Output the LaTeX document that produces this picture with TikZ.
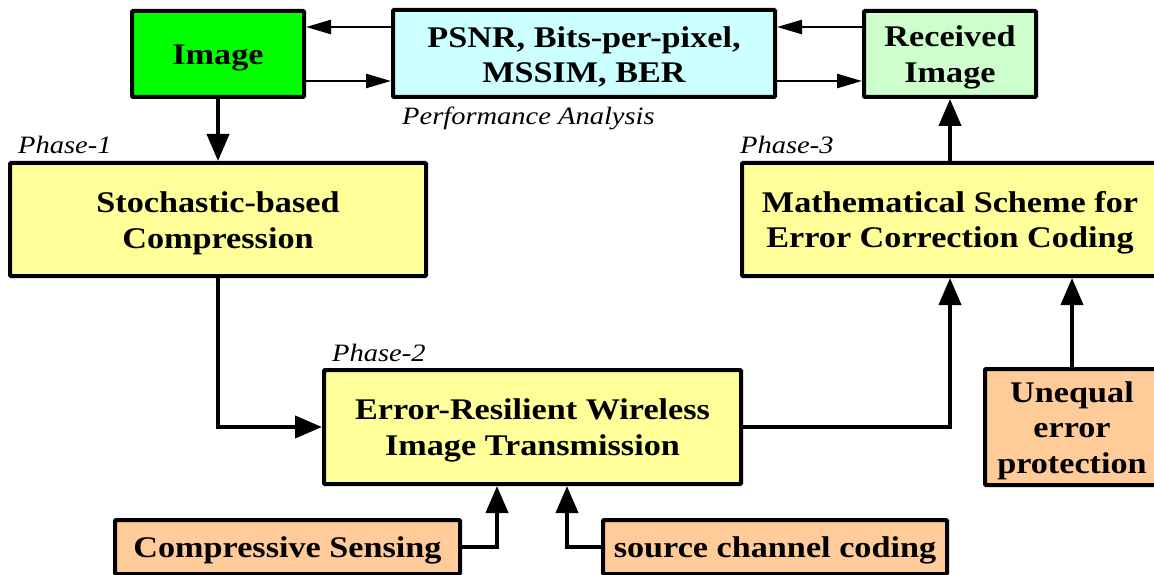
\documentclass[tikz,border=0pt]{standalone}
\usepackage{fontspec}
\setmainfont{Liberation Serif}[FakeStretch=1.14]
\usetikzlibrary{arrows.meta}
\definecolor{cgreen}{HTML}{00FF00}
\definecolor{ccyan}{HTML}{CCFFFF}
\definecolor{clgreen}{HTML}{CCFFCC}
\definecolor{cyellow}{HTML}{FFFF99}
\definecolor{corange}{HTML}{FFCC99}
\newcommand{\toplift}{\rule{0pt}{28pt}}
\begin{document}
\begin{tikzpicture}[x=1pt,y=-1pt,
  box/.style={draw=black, line width=4pt, rounded corners=1pt, inner sep=0pt, align=center,
    font=\fontsize{30}{35.5}\selectfont\bfseries},
  lbl/.style={anchor=west, inner sep=0pt, font=\fontsize{25}{30}\selectfont\itshape},
  tconn/.style={line width=4pt, -{Triangle[length=27pt,width=22pt]}},
  thinconn/.style={line width=2.5pt, -{Triangle[length=25pt,width=14pt]}}]
\useasboundingbox (0,0) rectangle (1154,575);
\clip (0,0) rectangle (1154,575);
\node[box, fill=cgreen, minimum width=172, minimum height=86] (img) at (218,54) {\toplift Image};
\node[box, fill=ccyan, minimum width=382, minimum height=87] (psnr) at (584,53.5) {\toplift PSNR, Bits-per-pixel,\\MSSIM, BER};
\node[box, fill=clgreen, minimum width=172, minimum height=86] (rec) at (950,54) {\toplift Received\\Image};
\node[box, fill=cyellow, minimum width=416, minimum height=113] (stoch) at (218,219.5) {\toplift Stochastic-based\\Compression};
\node[box, fill=cyellow, minimum width=416, minimum height=113] (math) at (950,219.5) {\toplift Mathematical Scheme for\\Error Correction Coding};
\node[box, fill=cyellow, minimum width=417, minimum height=114] (er) at (532.5,427) {\toplift Error-Resilient Wireless\\Image Transmission};
\node[box, fill=corange, minimum width=174, minimum height=116] (ueq) at (1072,427) {\toplift Unequal\\error\\protection};
\node[box, fill=corange, minimum width=345, minimum height=54] (cs) at (287.5,547) {\toplift Compressive Sensing};
\node[box, fill=corange, minimum width=344, minimum height=54] (scc) at (775,547) {\toplift source channel coding};
\node[lbl] (p1) at (18,145) {Phase-1};
\node[lbl] (p2) at (332,353) {Phase-2};
\node[lbl] (p3) at (740,145) {Phase-3};
\node[lbl] (pa) at (402,118) {Performance Analysis};
\draw[tconn] (img.south) -- (stoch.north);
\draw[thinconn] ([yshift=26.5pt]psnr.west) -- ([yshift=27pt]img.east);
\draw[thinconn] ([yshift=-27pt]img.east) -- ([yshift=-27.5pt]psnr.west);
\draw[thinconn] ([yshift=27pt]rec.west) -- ([yshift=26.5pt]psnr.east);
\draw[thinconn] ([yshift=-27.5pt]psnr.east) -- ([yshift=-27pt]rec.west);
\draw[tconn] (math.north) -- (rec.south);
\draw[tconn] (stoch.south) |- (er.west);
\draw[tconn] (er.east) -| (math.south);
\draw[tconn] (ueq.north) -- (ueq.north |- math.south);
\draw[tconn] (cs.east) -| ([xshift=-35.5pt]er.south);
\draw[tconn] (scc.west) -| ([xshift=34.5pt]er.south);
\end{tikzpicture}
\end{document}
